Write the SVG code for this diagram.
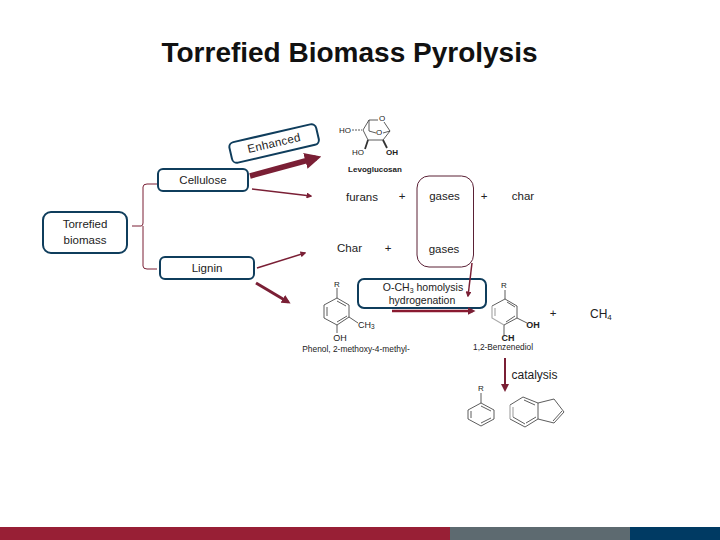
<svg xmlns="http://www.w3.org/2000/svg" width="720" height="540" viewBox="0 0 720 540">
<style>
text{font-family:"Liberation Sans",Arial,sans-serif;fill:#222}
.t{font-size:11.500px;text-anchor:middle}
.s{font-size:8px;text-anchor:middle}
.b{fill:#fff;stroke:#0f3d5c;stroke-width:2}
.c{fill:none;stroke:#7a1f35}
.m{fill:none;stroke:#333;stroke-width:.8}
.w{fill:none;stroke:#333;stroke-width:1.800}
.g{fill:none;stroke:#aaa;stroke-width:1.200}
</style>
<defs>
<marker id="a" markerWidth="4" markerHeight="4" refX="3" refY="2" orient="auto"><path d="M0 0L4 2L0 4z" fill="#7a1f35"/></marker>
<marker id="h" markerWidth="3" markerHeight="3" refX="2" refY="1.500" orient="auto"><path d="M0 0L3 1.500L0 3z" fill="#7a1f35"/></marker>
</defs>
<rect width="720" height="540" fill="#fff"/>
<text x="349.500" y="62" font-size="28" font-weight="bold" text-anchor="middle" style="fill:#111">Torrefied Biomass Pyrolysis</text>
<g id="enhanced"><rect class="b" x="229.500" y="133" width="89" height="21" rx="5" transform="rotate(-13 274 143)"/><text class="t" x="274" y="147" transform="rotate(-13 274 143)" letter-spacing=".3">Enhanced</text></g>
<g id="cellulose"><rect class="b" x="158" y="169" width="90" height="22" rx="5"/><text class="t" x="203" y="184">Cellulose</text></g>
<g id="torrefied"><rect class="b" x="43" y="212" width="84" height="41" rx="8"/><text class="t" x="85" y="228">Torrefied</text><text class="t" x="85" y="244">biomass</text></g>
<g id="lignin"><rect class="b" x="160" y="257" width="94" height="22" rx="5"/><text class="t" x="207" y="272">Lignin</text></g>
<g id="gases"><rect x="417" y="176" width="56.500" height="91" rx="12" fill="none" stroke="#5a2035" stroke-width="1"/></g>
<g id="och3"><rect class="b" x="358" y="279" width="128" height="29" rx="6"/><text class="t" x="423" y="291" style="font-size:10.500px">O-CH<tspan font-size="7" dy="2">3</tspan><tspan dy="-2"> homolysis</tspan></text><text class="t" x="422" y="304" style="font-size:10.500px">hydrogenation</text></g>
<g id="connectors">
<path class="c" d="M132 226H141Q143 226 143 223V187Q143 184 147 184H157M143 226V266Q143 269 147 269H157"/>
<path d="M250 176L316 158" fill="none" stroke="#7a1f35" stroke-width="5.500" marker-end="url(#h)"/>
<path class="c" stroke-width="1.500" d="M252 189L311 196" marker-end="url(#a)"/>
<path class="c" stroke-width="1.500" d="M257 268L305 253" marker-end="url(#a)"/>
<path class="c" stroke-width="3" d="M256 283L288 302" marker-end="url(#h)"/>
<path class="c" stroke-width="1.500" d="M472 263L468 296" marker-end="url(#a)"/>
<path stroke="#8a1a30" fill="none" stroke-width="2.500" d="M392 311H473" marker-end="url(#h)"/>
<path class="c" stroke-width="2" d="M505 358V390" marker-end="url(#a)"/>
</g>
<g id="products">
<text class="t" x="362" y="201">furans</text><text class="t" x="402" y="200">+</text><text class="t" x="444.500" y="200">gases</text><text class="t" x="484" y="200">+</text><text class="t" x="523" y="200">char</text>
<text class="t" x="349.500" y="252">Char</text><text class="t" x="388" y="252">+</text><text class="t" x="444" y="253">gases</text>
<text class="t" x="553" y="317">+</text><text x="590" y="318" font-size="12">CH<tspan font-size="8" dy="2">4</tspan></text>
<text x="511.500" y="378.500" font-size="12">catalysis</text>
</g>
<g id="levoglucosan">
<path class="m" d="M363 130L368 140H383L390 131L384 122M363 130L369 120H378M369 120L369 131L376 133M383 133L390 131"/>
<path class="m" stroke-dasharray="2 1" d="M352 130H362"/>
<path class="w" d="M368 140L365 149M383 140L387 148"/>
<text class="s" x="345" y="133">HO</text><text class="s" x="382" y="121">O</text><text class="s" x="379" y="135">O</text><text class="s" x="358" y="155">HO</text><text class="s" x="392" y="155" font-weight="bold">OH</text><text class="s" x="375" y="172" font-weight="bold">Levoglucosan</text>
</g>
<g id="phenol">
<path class="m" d="M337 288V298L349 305V317L337 325L324 318V305L337 298M327 307V316M337 322L347 316M337 301L346 306M349 317L358 323M337 325V333"/>
<text class="s" x="337" y="287">R</text><text x="358" y="328" font-size="9">CH<tspan font-size="6.500" dy="1">3</tspan></text><text x="340" y="341" font-size="9" text-anchor="middle">OH</text><text class="s" x="356" y="352" style="font-size:8.400px">Phenol, 2-methoxy-4-methyl-</text>
</g>
<g id="benzenediol">
<path class="m" d="M505 290V299L517 306V318L504 325M505 299L492 306M517 318L527 323M504 325V335M507 302L515 307M506 322L515 316"/>
<path class="g" d="M492 306V318L504 325M495 308V316"/>
<text class="s" x="504" y="288">R</text><text x="533" y="328" font-size="9" font-weight="bold" text-anchor="middle">OH</text><text x="508" y="341" font-size="9" font-weight="bold" text-anchor="middle">CH</text><text class="s" x="503" y="350" style="font-size:8.300px">1,2-Benzenediol</text>
</g>
<g id="aromatics">
<path class="m" d="M481 393V403L494 410V419L481 426L468 419V410L481 403M471 411V418M481 423L491 418M481 406L491 411"/>
<text class="s" x="481" y="391">R</text>
<path class="m" d="M523 397L538 403V419L525 427L510 419M523 397L510 405M513 417L525 424M536 417L526 423M524 400L535 405M538 403L554 399L564 412L554 423L538 419M553 421L562 411"/>
<path class="g" d="M510 405V419M513 407V417"/>
</g>
<g id="footer"><rect y="527" width="450" height="13" fill="#981f35"/><rect x="450" y="527" width="180" height="13" fill="#5d6a70"/><rect x="630" y="527" width="90" height="13" fill="#003a63"/></g>
</svg>
